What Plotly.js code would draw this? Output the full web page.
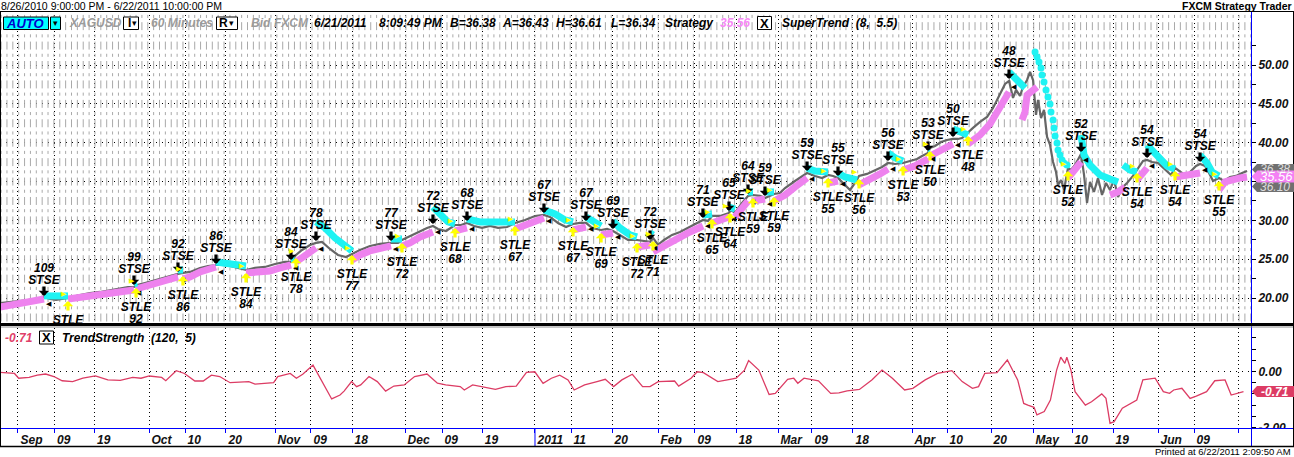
<!DOCTYPE html>
<html><head><meta charset="utf-8">
<script src="https://cdn.plot.ly/plotly-3.0.1.min.js"></script>
<style>html,body{margin:0;padding:0;background:#fff;overflow:hidden}#chart{width:1294px;height:457px}</style>
</head><body><div id="chart"></div>
<script>
// x values: trading-day index counted from Thu 2010-08-26 (weekends removed)
const tickDay   = [3.88,10.10,16.92,26.21,32.35,39.33,47.69,53.82,60.81,69.85,76.15,83.03,92.00,98.14,105.13,112.97,119.27,126.26,133.42,139.21,146.20,156.26,162.23,169.73,176.89,183.54,190.52,198.19,204.33,211.83];
const tickLabel = ['Sep','09','19','Oct','10','20','Nov','09','18','Dec','09','19','2011','11','20','Feb','09','18','Mar','09','18','Apr','10','20','May','10','19','Jun','09',''];

// XAGUSD 60-minute close (sampled)
const priceDay = [0.81,2.52,4.22,5.93,7.63,8.31,9.34,10.36,11.38,12.40,14.45,16.15,17.86,19.56,21.27,22.63,23.65,24.17,25.53,27.23,28.60,29.79,31.15,32.01,33.20,34.90,36.27,37.63,38.65,40.02,41.38,42.74,44.28,45.98,47.69,49.39,50.41,51.27,52.29,53.65,54.67,55.70,57.06,58.42,59.79,60.81,62.18,63.88,65.58,67.46,68.65,69.33,70.70,72.40,73.60,74.61,75.47,76.83,78.37,79.39,80.41,81.61,82.97,84.33,85.70,87.23,88.59,90.30,92.00,93.53,94.56,95.92,97.29,98.48,99.67,100.69,101.72,103.26,104.28,105.30,106.49,107.85,109.39,110.58,111.61,112.12,112.97,113.99,115.36,116.72,118.42,119.62,120.64,121.49,122.17,123.54,125.07,125.41,126.09,127.29,128.31,129.16,130.35,131.21,132.06,132.74,133.76,134.62,136.32,137.52,138.37,139.73,140.93,141.95,142.80,143.65,144.67,145.70,146.55,147.23,148.59,150.13,151.15,152.17,153.37,154.73,155.92,157.12,157.97,158.99,159.33,160.18,161.21,162.23,163.25,164.10,164.78,165.81,166.66,167.86,169.05,170.07,170.92,171.61,172.12,172.80,173.48,173.99,174.67,175.19,175.87,176.38,176.89,177.40,177.74,178.25,178.76,179.28,179.79,180.30,180.81,181.15,181.66,182.17,182.85,183.36,184.05,185.07,185.58,186.09,186.60,187.28,187.96,188.65,189.33,190.01,190.69,191.38,192.06,192.91,193.93,194.61,195.64,196.32,197.17,198.19,199.39,200.41,201.09,201.94,202.97,203.99,204.67,205.36,206.21,206.89,207.57,208.59,209.45,210.47,211.49,212.51,213.37];
const priceClose = [19.37,19.50,19.63,19.76,20.02,20.15,19.89,19.76,19.89,20.02,20.40,20.66,20.79,21.05,21.30,21.43,21.43,21.69,21.95,22.33,22.59,22.85,23.11,23.24,23.37,23.88,24.13,24.26,24.26,24.13,23.88,23.62,23.88,24.01,24.39,24.65,24.65,25.55,26.19,26.84,27.10,27.23,26.32,25.55,25.29,25.68,26.19,26.71,26.97,27.10,27.10,27.48,28.00,28.64,29.03,29.28,28.90,28.64,29.41,29.41,29.67,29.28,29.03,29.28,29.03,29.15,29.67,30.06,30.57,30.70,30.44,29.67,29.15,29.54,29.67,29.67,29.03,28.77,28.90,28.64,28.13,27.48,27.48,27.35,27.23,27.74,26.84,27.48,28.13,28.51,29.15,29.67,30.06,29.93,30.57,30.57,30.96,31.34,30.96,32.24,33.15,33.27,33.15,32.89,33.15,33.40,33.53,34.17,35.07,35.72,36.10,35.72,35.46,35.85,35.72,35.46,34.69,33.92,34.82,35.72,35.98,36.49,36.88,37.39,37.26,37.39,37.65,37.91,38.29,38.68,39.32,39.58,40.09,40.35,40.48,40.48,40.61,41.25,41.90,42.67,43.31,44.47,45.76,46.79,47.56,47.95,45.76,46.79,46.02,47.17,48.07,49.10,48.07,43.57,45.50,43.18,44.21,40.74,39.71,37.52,36.23,34.56,35.20,33.92,36.75,36.49,37.13,38.55,35.85,32.24,34.95,33.66,35.46,33.27,34.82,33.92,35.20,33.02,34.17,34.82,35.72,36.49,37.65,37.78,37.52,37.39,36.49,35.85,36.75,36.23,35.72,36.49,37.01,37.26,37.01,36.10,35.07,35.46,35.07,35.59,35.72,36.10,36.36];

// SuperTrend (8, 5.5): up-trend (support) and down-trend (resistance) pieces
const stUpDay = [0.81,4.22,7.63,8.31,null,12.40,16.15,19.56,23.65,null,24.00,27.23,29.79,31.15,null,32.01,33.20,34.90,36.61,37.63,null,42.74,45.13,46.83,48.54,50.41,null,51.27,52.80,54.67,null,60.81,62.18,63.88,65.58,67.46,null,69.33,70.70,72.40,74.61,null,78.37,80.41,null,88.59,90.30,92.00,93.53,null,98.48,100.69,null,103.26,105.29,null,109.39,111.60,null,112.12,113.31,115.01,116.72,118.42,120.64,null,122.17,123.54,125.07,null,126.09,127.29,128.31,null,129.16,131.21,null,132.74,134.62,136.32,138.37,null,141.95,143.65,null,147.23,149.10,150.81,152.17,null,154.73,156.78,158.99,null,159.33,161.04,163.25,null,165.81,167.86,169.56,171.27,172.80,null,175.01,175.53,175.87,176.72,177.57,null,182.85,185.07,null,190.01,191.38,192.57,null,194.61,195.47,196.32,null,201.09,203.65,205.36,null,208.59,209.61,212.17,213.37];
const stUpVal = [18.86,19.24,19.76,19.89,null,19.89,20.27,20.66,21.05,null,21.17,21.82,22.46,22.72,null,22.46,22.72,23.36,23.88,24.00,null,23.23,23.36,23.49,23.88,24.26,null,24.65,25.42,26.45,null,24.91,25.55,26.07,26.45,26.71,null,26.71,27.10,27.87,28.51,null,28.64,29.03,null,28.90,29.41,30.06,30.31,null,28.77,29.15,null,28.13,28.38,null,26.58,26.84,null,25.94,26.45,27.23,27.87,28.51,29.28,null,29.67,30.06,30.44,null,30.44,31.47,32.50,null,32.50,32.76,null,32.50,33.27,34.30,35.46,null,34.82,35.07,null,34.56,35.20,35.98,36.62,null,36.49,37.01,37.91,null,38.29,39.07,39.84,null,39.84,40.99,42.41,44.60,46.53,null,42.93,43.96,46.14,46.79,47.17,null,35.46,37.52,null,33.27,33.66,34.30,null,35.20,35.85,36.75,null,35.59,35.85,36.11,null,33.92,34.95,35.46,35.59];
const stDnDay = [8.31,12.40,null,23.65,24.17,null,31.15,32.01,null,37.63,39.17,40.87,42.74,null,50.41,51.00,null,54.67,56.21,57.91,59.62,60.81,null,67.46,69.33,null,74.61,75.81,77.18,78.37,null,80.41,82.63,88.59,null,93.53,95.41,97.12,98.48,null,100.69,102.23,103.26,null,105.29,106.49,108.19,109.39,null,111.60,112.12,null,120.64,122.17,null,125.07,126.09,null,128.31,129.16,null,131.21,132.74,null,138.37,139.73,141.95,null,143.65,144.84,146.90,null,152.17,153.37,154.73,null,158.99,159.33,null,163.25,164.45,165.81,null,172.80,174.34,175.53,null,185.07,185.58,186.60,188.31,190.01,191.38,null,192.23,193.42,194.61,null,196.32,198.02,199.73,201.09,null,205.36,206.55,207.40,208.59];
const stDnVal = [20.28,20.28,null,21.82,21.95,null,23.62,23.62,null,24.65,24.52,24.39,24.13,null,25.04,25.04,null,29.80,29.03,27.74,26.58,26.07,null,27.61,27.61,null,31.73,30.83,29.80,29.54,null,30.19,29.80,29.80,null,31.34,30.83,30.06,29.80,null,30.44,29.67,29.28,null,29.93,29.03,28.13,27.87,null,28.38,28.13,null,30.70,30.83,null,31.73,31.47,null,33.66,33.66,null,33.66,33.66,null,36.75,36.36,36.23,null,36.10,35.59,35.20,null,38.68,38.04,37.65,null,39.20,39.20,null,41.77,41.38,41.00,null,49.10,47.82,47.04,null,40.99,38.42,37.13,35.85,35.33,34.95,null,37.13,36.49,36.23,null,39.71,38.29,37.00,36.62,null,38.42,37.39,36.23,35.72];
const stDnDotDay = [177.23,177.57,177.91,178.25,178.42,178.76,179.10,179.44,179.78,179.95,180.30,180.47,180.64,180.98,181.15,181.49,181.83,182.17,182.68];
const stDnDotVal = [51.68,51.03,50.39,49.62,48.72,47.82,46.79,45.89,44.99,43.96,42.93,41.90,40.87,39.97,39.07,38.42,37.78,37.39,37.13];

// Strategy signals
const stseDay  = [8.31,23.65,31.15,37.63,50.41,54.67,67.46,74.61,80.41,93.53,100.69,105.29,111.60,120.63,125.07,128.31,131.20,138.37,143.65,152.17,158.99,163.25,172.80,185.07,196.32,205.36];
const stseHigh = [20.27,21.69,23.36,24.39,24.90,27.35,27.35,29.54,29.92,30.95,29.92,28.89,27.48,30.31,31.21,33.40,33.14,36.36,35.71,37.64,38.93,40.73,48.20,38.80,38.03,37.52];
const stseNum  = [109,99,92,86,84,78,77,72,68,67,67,69,72,71,65,64,59,59,55,56,53,50,48,52,54,54];
const stleDay  = [12.40,24.00,32.00,42.74,51.26,60.81,69.33,78.37,88.59,98.48,103.26,109.39,112.12,122.17,125.24,129.16,132.74,141.95,147.23,154.74,159.33,165.81,182.85,194.61,201.09,208.59];
const stleLow  = [19.63,21.30,22.84,23.23,25.16,25.55,27.09,29.02,29.28,29.15,28.38,27.09,27.35,30.18,30.95,32.88,33.01,35.46,35.33,37.00,38.93,40.86,36.36,36.10,36.36,35.07];
const stleNum  = [99,92,86,84,78,77,72,68,67,67,69,72,71,65,64,59,59,55,56,53,50,48,52,54,54,55];

// TrendStrength (120, 5)
const tsDay = [0.81,3.28,4.00,5.76,7.17,8.59,10.00,11.41,13.19,14.94,17.07,19.19,21.30,23.43,24.85,26.26,28.37,29.07,30.85,32.26,34.03,35.45,36.85,38.26,40.03,41.81,43.22,44.28,46.03,47.45,48.16,50.28,51.33,52.41,54.16,55.08,55.94,57.35,58.77,59.46,60.74,61.59,62.29,63.71,65.12,66.54,67.95,69.71,71.48,73.60,75.37,76.78,79.26,79.95,81.37,84.20,85.26,87.03,88.80,90.55,91.97,93.38,94.80,96.21,97.63,98.68,100.46,102.57,103.98,105.40,106.81,108.59,110.34,111.60,113.00,115.79,116.49,118.60,119.65,120.70,123.16,125.25,126.29,127.71,128.41,130.15,131.90,132.96,135.06,136.10,136.80,137.85,140.31,142.40,143.80,145.20,147.30,149.41,151.15,152.91,155.00,156.40,158.51,160.61,163.05,164.81,166.56,167.60,168.66,170.75,172.51,174.27,175.30,176.00,177.06,177.55,178.80,179.85,180.91,181.61,182.31,182.65,183.35,184.05,185.81,186.86,188.60,189.32,190.01,190.71,192.11,194.57,195.61,197.70,199.10,200.16,200.86,202.26,203.66,204.71,206.47,207.87,209.62,210.66,212.76];
const tsValue = [-0.03,-0.07,-0.24,-0.21,-0.13,-0.09,-0.18,-0.33,-0.36,-0.24,-0.16,-0.30,-0.32,-0.21,-0.24,-0.16,-0.21,-0.33,0.03,-0.07,-0.34,-0.34,-0.13,-0.18,-0.40,-0.39,-0.36,-0.45,-0.42,-0.40,-0.18,-0.07,-0.24,-0.10,0.23,-0.13,-0.42,-0.98,-0.84,-0.70,-0.36,-0.54,-0.48,-0.18,-0.36,-0.70,-0.52,-0.48,-0.18,-0.09,-0.42,-0.48,-0.54,-0.66,-0.48,-0.60,-0.64,-0.54,-0.52,-0.03,-0.01,-0.42,-0.24,-0.13,-0.30,-0.66,-0.48,-0.36,-0.28,-0.54,-0.30,-0.10,-0.54,-0.54,-0.36,-0.34,-0.52,-0.24,-0.01,-0.04,-0.36,-0.28,-0.24,0.05,0.39,0.05,-0.82,-0.78,-0.28,-0.24,-0.42,-0.24,-0.33,-0.78,-0.76,-0.69,-0.64,-0.30,0.05,-0.24,-0.66,-0.60,-0.30,-0.07,0.03,-0.36,-0.60,-0.54,-0.07,-0.04,0.41,-0.30,-1.14,-1.20,-1.28,-1.55,-1.43,-1.02,0.05,0.51,0.29,0.51,0.05,-0.72,-1.20,-1.08,-0.80,-0.96,-1.85,-1.79,-1.31,-1.02,-0.30,-0.24,-0.72,-0.78,-0.66,-0.60,-0.96,-0.88,-0.72,-0.33,-0.30,-0.84,-0.72];

const priceTicks = [20,25,30,35,40,45,50];
const priceTickText = ['20.00','25.00','30.00','35.00','40.00','45.00','50.00'];

// ---------------------------------------------------------------
const W = 1294, H = 457;
const fx = x => x / W, fy = y => 1 - y / H;
const FAM = 'Liberation Sans, Arial, sans-serif';
const BI = {family: FAM, size: 12, weight: 'bold', style: 'italic', color: '#000'};
const CYAN = '#1ef3f3', PINK = '#ee82ee';

// background texture: rows of short grey dashes (one per trading day)
const tallX = [], tallY = [], shortX = [], shortY = [];
for (let d = 1; d <= 214; d++) {
  for (let m = 14; m <= 45; m++) {
    if (m % 2 === 0) { tallX.push(d); tallY.push(1.25 * m); }
    else { shortX.push(d); shortY.push(1.25 * m); }
  }
}

const traces = [
  {x: tallX, y: tallY, type: 'scatter', mode: 'markers', xaxis: 'x', yaxis: 'y',
   marker: {symbol: 'line-ns', size: 5.7, line: {color: '#a9a9a9', width: 1}}},
  {x: shortX, y: shortY, type: 'scatter', mode: 'markers', xaxis: 'x', yaxis: 'y',
   marker: {symbol: 'line-ns', size: 2.2, line: {color: '#a9a9a9', width: 1}}},
  {x: priceDay, y: priceClose, type: 'scatter', mode: 'lines', xaxis: 'x', yaxis: 'y',
   line: {color: '#666666', width: 2.2}},
  {x: stUpDay, y: stUpVal, type: 'scatter', mode: 'lines', xaxis: 'x', yaxis: 'y',
   line: {color: PINK, width: 7}},
  {x: stDnDay, y: stDnVal, type: 'scatter', mode: 'lines', xaxis: 'x', yaxis: 'y',
   line: {color: CYAN, width: 7}},
  {x: stDnDotDay, y: stDnDotVal, type: 'scatter', mode: 'markers', xaxis: 'x', yaxis: 'y',
   marker: {color: CYAN, size: 7, symbol: 'circle'}},
  // signal labels (invisible marker size sets the text offset)
  {x: stseDay, y: stseHigh, type: 'scatter', mode: 'markers+text', xaxis: 'x', yaxis: 'y',
   text: stseDay.map(() => 'STSE'), textposition: 'top center', textfont: BI,
   marker: {size: 13.1, color: 'rgba(0,0,0,0)'}},
  {x: stseDay, y: stseHigh, type: 'scatter', mode: 'markers+text', xaxis: 'x', yaxis: 'y',
   text: stseNum.map(String), textposition: 'top center', textfont: BI,
   marker: {size: 31.5, color: 'rgba(0,0,0,0)'}},
  {x: stleDay, y: stleLow, type: 'scatter', mode: 'markers+text', xaxis: 'x', yaxis: 'y',
   text: stleDay.map(() => 'STLE'), textposition: 'bottom center', textfont: BI,
   marker: {size: 21.3, color: 'rgba(0,0,0,0)'}},
  {x: stleDay, y: stleLow, type: 'scatter', mode: 'markers+text', xaxis: 'x', yaxis: 'y',
   text: stleNum.map(String), textposition: 'bottom center', textfont: BI,
   marker: {size: 40.5, color: 'rgba(0,0,0,0)'}},
  {x: tsDay, y: tsValue, type: 'scatter', mode: 'lines', xaxis: 'x2', yaxis: 'y2',
   line: {color: '#dc3c64', width: 1.3}}
];

function label(x, y, text, font, extra) {
  return Object.assign({xref: 'paper', yref: 'paper', x: fx(x), y: fy(y), text: text, showarrow: false,
    xanchor: 'left', yanchor: 'middle', borderpad: 0, font: Object.assign({}, BI, font || {})}, extra || {});
}
const GRAY = {color: '#9b9b9b'};
const TRI = {family: 'DejaVu Sans', size: 9, weight: 'normal', style: 'normal'};
const C = {xanchor: 'center'};
const annotations = [
  label(0, 5.5, '8/26/2010 9:00:00 PM - 6/22/2011 10:00:00 PM', {size: 10.5, weight: 'normal', style: 'normal'}),
  label(1293, 5.5, 'FXCM Strategy Trader', {size: 10.5, style: 'normal'}, {xanchor: 'right'}),
  label(25.5, 23.5, 'AUTO', {size: 13, color: '#0000cc'}, C),
  label(55.5, 23, '▾', TRI, C),
  label(68, 23, 'XAGUSD', GRAY),
  label(129, 23, 'I', {style: 'normal'}, C),
  label(134.5, 23, '▾', TRI, C),
  label(150, 23, '60 Minutes', GRAY),
  label(223.5, 23, 'R', {style: 'normal'}, C),
  label(231.5, 23, '▾', TRI, C),
  label(250, 23, 'Bid', GRAY),
  label(273, 23, 'FXCM', GRAY),
  label(313, 23, '6/21/2011'),
  label(378, 23, '8:09:49 PM'),
  label(449, 23, 'B=36.38'),
  label(501, 23, 'A=36.43'),
  label(555, 23, 'H=36.61'),
  label(610, 23, 'L=36.34'),
  label(664, 23, 'Strategy'),
  label(719, 23, '35.56', {color: '#f78af7'}),
  label(764.5, 23, 'X', {style: 'normal', size: 13}, C),
  label(781, 23, 'SuperTrend&nbsp; (8,&nbsp; 5.5)'),
  label(4, 337.5, '-0.71', {color: '#e0406a'}),
  label(46, 337.5, 'X', {style: 'normal', size: 13}, C),
  label(61, 337.5, 'TrendStrength&nbsp; (120,&nbsp; 5)'),
  label(1292, 451.5, 'Printed at 6/22/2011 2:09:50 AM', {size: 9.5, weight: 'normal', style: 'normal'}, {xanchor: 'right'}),
  label(1275, 169.5, '36.38', {color: '#dddddd', weight: 'normal', size: 12}, C),
  label(1275, 186.5, '36.10', {color: '#dddddd', weight: 'normal', size: 12}, C),
];
stseDay.forEach((d, i) => {
  annotations.push({x: d, y: stseHigh[i], xref: 'x', yref: 'y', text: '', showarrow: true,
    arrowhead: 1, arrowsize: 0.55, arrowwidth: 3.2, arrowcolor: '#000', ax: 0, ay: -11, standoff: 0});
  annotations.push({x: d, y: stseHigh[i], xref: 'x', yref: 'y', text: '◀', showarrow: false,
    xshift: 5, yshift: -8, font: {family: 'DejaVu Sans', size: 7, color: '#000'}});
});
stleDay.forEach((d, i) => {
  annotations.push({x: d, y: stleLow[i], xref: 'x', yref: 'y', text: '', showarrow: true,
    arrowhead: 1, arrowsize: 0.55, arrowwidth: 3.2, arrowcolor: '#ffff00', ax: 0, ay: 11, standoff: 0});
  annotations.push({x: d, y: stleLow[i], xref: 'x', yref: 'y', text: '▶', showarrow: false,
    xshift: -4, yshift: 7, font: {family: 'DejaVu Sans', size: 7, color: '#ffff00'}});
});

function path(pts) {
  return 'M' + pts.map(p => fx(p[0]) + ',' + fy(p[1])).join('L') + 'Z';
}
function rect(x0, y0, x1, y1, fill, lc, lw) {
  return {type: 'rect', xref: 'paper', yref: 'paper', x0: fx(x0), x1: fx(x1), y0: fy(y0), y1: fy(y1),
    fillcolor: fill, line: {color: lc || 'rgba(0,0,0,0)', width: lw === undefined ? 1 : lw}};
}
function hline(x0, x1, y, color, w) {
  return {type: 'line', xref: 'paper', yref: 'paper', x0: fx(x0), x1: fx(x1), y0: fy(y), y1: fy(y), line: {color: color, width: w || 1}};
}
function vline(x, y0, y1, color, w) {
  return {type: 'line', xref: 'paper', yref: 'paper', x0: fx(x), x1: fx(x), y0: fy(y0), y1: fy(y1), line: {color: color, width: w || 1}};
}
const shapes = [
  vline(1251.5, 11, 446, '#0000ff'),
  hline(0, 1294, 428.5, '#0000ff'),
  rect(1253, 429, 1293, 445.5, '#ffffff', null, 0),
  {type: 'line', xref: 'x2', yref: 'paper', x0: 92.0, x1: 92.0, y0: fy(428.5), y1: fy(446), line: {color: '#0000ff', width: 1}},
  rect(0, 323, 1294, 326, '#000000', null, 0),
  hline(0, 1294, 327, '#8c8c8c'),
  hline(0, 1294, 11.5, '#000000'),
  hline(0, 1294, 446.5, '#000000', 1.5),
  vline(0.5, 11, 447, '#000000'),
  vline(1293.5, 11, 447, '#000000'),
  // toolbar widgets
  rect(3.5, 17, 48.5, 29.5, '#00ffff', '#000000'),
  rect(50.5, 17, 60.5, 29.5, '#00ffff', '#000000'),
  rect(123.5, 17, 138.5, 29.5, '#ffffff', '#000000'),
  rect(216.5, 17, 237.5, 29.5, '#ffffff', '#000000'),
  rect(757.5, 16.5, 771.5, 29.5, '#ffffff', '#000000'),
  rect(39.5, 331, 53.5, 344, '#ffffff', '#000000'),
  // last-value boxes
  {type: 'path', xref: 'paper', yref: 'paper', path: path([[1252, 169.5], [1257, 164], [1294, 164], [1294, 175], [1257, 175]]), fillcolor: '#707070', line: {width: 0}},
  {type: 'path', xref: 'paper', yref: 'paper', path: path([[1252, 186.5], [1257, 181], [1294, 181], [1294, 192], [1257, 192]]), fillcolor: '#707070', line: {width: 0}},
  {type: 'path', xref: 'paper', yref: 'paper', path: path([[1251.5, 176.5], [1257.5, 170.5], [1294, 170.5], [1294, 182.5], [1257.5, 182.5]]), fillcolor: '#f480f4', line: {width: 0}},
  {type: 'path', xref: 'paper', yref: 'paper', path: path([[1252, 391.5], [1257, 386], [1294, 386], [1294, 397], [1257, 397]]), fillcolor: '#dc3c64', line: {width: 0}},
];
annotations.push(label(1276, 176.5, '35.56', {color: '#ffffff', weight: 'normal', size: 13}, C));
annotations.push(label(1275, 391.5, '-0.71', {color: '#ffffff'}, C));

const xCommon = {domain: [0, 1251 / W], range: [0.813, 214.04], tickmode: 'array', tickvals: tickDay,
  showgrid: true, gridcolor: '#000000', griddash: '1px,3px', gridwidth: 1, zeroline: false, showline: false, fixedrange: true};
const layout = {
  width: W, height: H, margin: {l: 0, r: 0, t: 0, b: 0}, paper_bgcolor: '#ffffff', plot_bgcolor: '#ffffff',
  showlegend: false, hovermode: false,
  xaxis: Object.assign({}, xCommon, {anchor: 'y', showticklabels: false, ticks: ''}),
  xaxis2: Object.assign({}, xCommon, {anchor: 'y2', ticktext: tickLabel, ticks: 'outside', ticklen: 4,
    tickcolor: '#0000ff', tickwidth: 1, tickfont: Object.assign({}, BI, {color: '#111111'}),
    ticklabelposition: 'outside right', ticklabelshift: 2, ticklabelstandoff: 1}),
  yaxis: {domain: [134 / H, 446 / H], range: [16.795, 56.95], side: 'right', anchor: 'x',
    tickmode: 'array', tickvals: priceTicks, ticktext: priceTickText, ticks: 'outside', ticklen: 4,
    tickcolor: '#000000', tickfont: Object.assign({}, BI, {color: '#111111'}),
    showgrid: true, gridcolor: '#000000', griddash: '1px,5px', gridwidth: 1, zeroline: false, showline: false,
    minor: {tickmode: 'array', tickvals: [22.5, 27.5, 32.5, 37.5, 42.5, 47.5, 52.5], ticks: 'outside', ticklen: 4, tickcolor: '#000000', showgrid: false},
    fixedrange: true},
  yaxis2: {domain: [29 / H, 129 / H], range: [-2.018, 1.554], side: 'right', anchor: 'x2',
    tickmode: 'array', tickvals: [0, -2], ticktext: ['0.00', '-2.00'], ticks: 'outside', ticklen: 4,
    tickcolor: '#000000', tickfont: Object.assign({}, BI, {color: '#111111'}),
    showgrid: true, gridcolor: '#000000', griddash: '1px,5px', zeroline: false, showline: false,
    minor: {tickmode: 'array', tickvals: [1.2, 0.8, 0.4, -0.4, -0.8, -1.2, -1.6], ticks: 'outside', ticklen: 4, tickcolor: '#000000', showgrid: false},
    fixedrange: true},
  shapes: shapes,
  annotations: annotations
};
Plotly.newPlot('chart', traces, layout, {staticPlot: true, displayModeBar: false});
</script>
</body></html>
